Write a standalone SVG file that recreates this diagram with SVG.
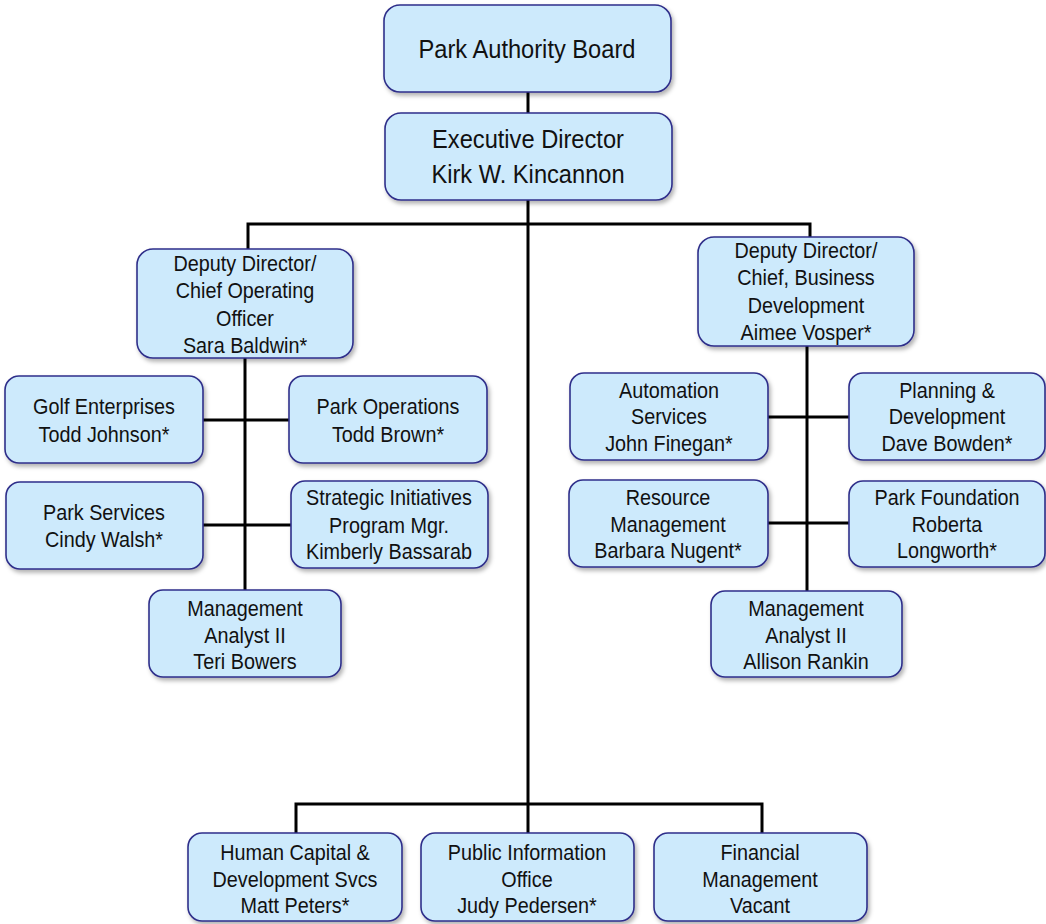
<svg xmlns="http://www.w3.org/2000/svg" width="1046" height="924" viewBox="0 0 1046 924">
<defs>
<filter id="sh" x="-10%" y="-10%" width="125%" height="130%">
<feDropShadow dx="2" dy="3" stdDeviation="2" flood-color="#000" flood-opacity="0.3"/>
</filter>
<style>
.box{fill:#cdeafc;stroke:#2f2f8a;stroke-width:1.6;filter:url(#sh)}
.t{font-family:"Liberation Sans",Arial,sans-serif;font-size:22px;fill:#111;text-anchor:middle}
.tl{font-family:"Liberation Sans",Arial,sans-serif;font-size:26px;fill:#111;text-anchor:middle}
.c{stroke:#000;stroke-width:3;fill:none}
</style>
</defs>
<rect width="1046" height="924" fill="#fff"/>
<g id="connectors">
<line class="c" x1="528" y1="92" x2="528" y2="113"/>
<line class="c" x1="528" y1="200" x2="528" y2="833"/>
<polyline class="c" points="248,249 248,224 810,224 810,237"/>
<line class="c" x1="245" y1="358" x2="245" y2="590"/>
<line class="c" x1="203" y1="420" x2="289" y2="420"/>
<line class="c" x1="203" y1="525" x2="291" y2="525"/>
<line class="c" x1="807" y1="346" x2="807" y2="591"/>
<line class="c" x1="768" y1="417" x2="849" y2="417"/>
<line class="c" x1="768" y1="523" x2="849" y2="523"/>
<polyline class="c" points="296,833 296,804 762,804 762,833"/>
</g>
<g id="board"><rect class="box" x="384" y="5" width="287" height="87" rx="16"/><g transform="translate(527 0) scale(0.91 1)"><text class="tl" x="0" y="58">Park Authority Board</text></g></g>
<g id="exec"><rect class="box" x="385" y="113" width="287" height="87" rx="16"/><g transform="translate(528 0) scale(0.91 1)"><text class="tl" x="0" y="148">Executive Director</text><text class="tl" x="0" y="183">Kirk W. Kincannon</text></g></g>
<g id="coo"><rect class="box" x="137" y="249" width="216" height="109" rx="16"/><g transform="translate(245 0) scale(0.9 1)"><text class="t" x="0" y="271">Deputy Director/</text><text class="t" x="0" y="298">Chief Operating</text><text class="t" x="0" y="326">Officer</text><text class="t" x="0" y="353">Sara Baldwin*</text></g></g>
<g id="cbd"><rect class="box" x="698" y="237" width="216" height="109" rx="16"/><g transform="translate(806 0) scale(0.9 1)"><text class="t" x="0" y="258">Deputy Director/</text><text class="t" x="0" y="285">Chief, Business</text><text class="t" x="0" y="313">Development</text><text class="t" x="0" y="340">Aimee Vosper*</text></g></g>
<g id="golf"><rect class="box" x="5" y="376" width="198" height="87" rx="14"/><g transform="translate(104 0) scale(0.9 1)"><text class="t" x="0" y="414">Golf Enterprises</text><text class="t" x="0" y="442">Todd Johnson*</text></g></g>
<g id="parkops"><rect class="box" x="289" y="376" width="198" height="87" rx="14"/><g transform="translate(388 0) scale(0.9 1)"><text class="t" x="0" y="414">Park Operations</text><text class="t" x="0" y="442">Todd Brown*</text></g></g>
<g id="parkservices"><rect class="box" x="6" y="482" width="197" height="87" rx="14"/><g transform="translate(104 0) scale(0.9 1)"><text class="t" x="0" y="520">Park Services</text><text class="t" x="0" y="547">Cindy Walsh*</text></g></g>
<g id="strategic"><rect class="box" x="291" y="481" width="197" height="87" rx="14"/><g transform="translate(389 0) scale(0.9 1)"><text class="t" x="0" y="505">Strategic Initiatives</text><text class="t" x="0" y="533">Program Mgr.</text><text class="t" x="0" y="559">Kimberly Bassarab</text></g></g>
<g id="analyst-left"><rect class="box" x="149" y="590" width="192" height="87" rx="14"/><g transform="translate(245 0) scale(0.9 1)"><text class="t" x="0" y="616">Management</text><text class="t" x="0" y="643">Analyst II</text><text class="t" x="0" y="669">Teri Bowers</text></g></g>
<g id="automation"><rect class="box" x="570" y="373" width="198" height="87" rx="14"/><g transform="translate(669 0) scale(0.9 1)"><text class="t" x="0" y="398">Automation</text><text class="t" x="0" y="424">Services</text><text class="t" x="0" y="451">John Finegan*</text></g></g>
<g id="planning"><rect class="box" x="849" y="373" width="196" height="87" rx="14"/><g transform="translate(947 0) scale(0.9 1)"><text class="t" x="0" y="398">Planning &amp;</text><text class="t" x="0" y="424">Development</text><text class="t" x="0" y="451">Dave Bowden*</text></g></g>
<g id="resource"><rect class="box" x="569" y="480" width="199" height="87" rx="14"/><g transform="translate(668 0) scale(0.9 1)"><text class="t" x="0" y="505">Resource</text><text class="t" x="0" y="532">Management</text><text class="t" x="0" y="558">Barbara Nugent*</text></g></g>
<g id="foundation"><rect class="box" x="849" y="481" width="196" height="86" rx="14"/><g transform="translate(947 0) scale(0.9 1)"><text class="t" x="0" y="505">Park Foundation</text><text class="t" x="0" y="532">Roberta</text><text class="t" x="0" y="558">Longworth*</text></g></g>
<g id="analyst-right"><rect class="box" x="711" y="591" width="191" height="86" rx="14"/><g transform="translate(806 0) scale(0.9 1)"><text class="t" x="0" y="616">Management</text><text class="t" x="0" y="643">Analyst II</text><text class="t" x="0" y="669">Allison Rankin</text></g></g>
<g id="hr"><rect class="box" x="188" y="833" width="214" height="88" rx="14"/><g transform="translate(295 0) scale(0.9 1)"><text class="t" x="0" y="860">Human Capital &amp;</text><text class="t" x="0" y="887">Development Svcs</text><text class="t" x="0" y="913">Matt Peters*</text></g></g>
<g id="pio"><rect class="box" x="421" y="833" width="213" height="88" rx="14"/><g transform="translate(527 0) scale(0.9 1)"><text class="t" x="0" y="860">Public Information</text><text class="t" x="0" y="887">Office</text><text class="t" x="0" y="913">Judy Pedersen*</text></g></g>
<g id="finance"><rect class="box" x="654" y="833" width="213" height="88" rx="14"/><g transform="translate(760 0) scale(0.9 1)"><text class="t" x="0" y="860">Financial</text><text class="t" x="0" y="887">Management</text><text class="t" x="0" y="913">Vacant</text></g></g>
</svg>
